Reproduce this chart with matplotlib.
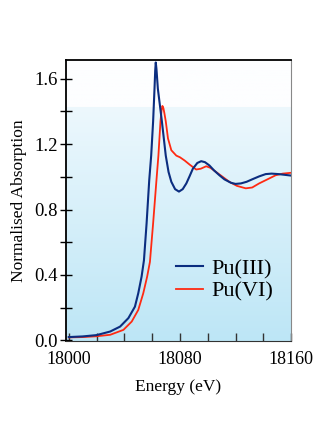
import numpy as np
import matplotlib
matplotlib.use("Agg")
import matplotlib.pyplot as plt
from matplotlib.colors import to_rgb

plt.rcParams['font.family'] = ['Liberation Serif', 'DejaVu Serif']

# Pu(III) spectrum
e_3 = [18000, 18010, 18020, 18029.8, 18036.9, 18042.9, 18047.6, 18050, 18052.4, 18054.1,
       18056, 18057.9, 18059.3, 18060.7, 18061.7, 18062.2, 18062.6, 18063.1, 18064.1, 18067,
       18069.8, 18071.8, 18073.8, 18076.5, 18079.3, 18082, 18084.6, 18087, 18089.3, 18092.5,
       18095.3, 18098, 18101.2, 18104.5, 18108.4, 18112, 18116.7, 18120, 18123.9, 18128,
       18132, 18137, 18141.7, 18146, 18151, 18156, 18160]
mu_3 = [0.020, 0.024, 0.032, 0.054, 0.084, 0.136, 0.206, 0.288, 0.39, 0.49,
        0.716, 0.98, 1.13, 1.34, 1.54, 1.65, 1.70, 1.66, 1.54, 1.34,
        1.13, 1.03, 0.97, 0.925, 0.91, 0.925, 0.96, 1.005, 1.05, 1.085,
        1.096, 1.09, 1.07, 1.04, 1.01, 0.985, 0.964, 0.957, 0.96, 0.97,
        0.985, 1.003, 1.017, 1.02, 1.017, 1.012, 1.008]

# Pu(VI) spectrum
e_6 = [18000, 18010, 18020, 18029.8, 18039.3, 18045.3, 18050, 18053.6, 18056.4, 18058.4,
       18060.7, 18063.1, 18064.5, 18066, 18066.8, 18067.4, 18068.1, 18068.8, 18069.8, 18071.4,
       18073.8, 18077.4, 18080, 18083.4, 18087, 18091.7, 18095, 18098.9, 18102, 18106,
       18110, 18115.5, 18121, 18127.4, 18132, 18137, 18143, 18148.9, 18154, 18160]
mu_6 = [0.018, 0.020, 0.025, 0.034, 0.064, 0.115, 0.186, 0.288, 0.39, 0.48,
        0.716, 0.98, 1.13, 1.34, 1.41, 1.434, 1.42, 1.39, 1.34, 1.235,
        1.163, 1.13, 1.12, 1.10, 1.075, 1.045, 1.05, 1.065, 1.055, 1.03,
        1.005, 0.97, 0.945, 0.93, 0.935, 0.96, 0.985, 1.01, 1.02, 1.025]

labels = ['Pu(III)', 'Pu(VI)']

fig = plt.figure(figsize=(3.22, 4.4), dpi=100)
ax = fig.add_axes([0.205, 0.225, 0.699, 0.639])

# background gradient (white at top -> light blue at bottom)
t = np.linspace(0, 1, 300)
c_bot = np.array(to_rgb('#bde6f6'))
c_mid = np.array(to_rgb('#edf8fd'))
c_top = np.array(to_rgb('#fdfeff'))
rows = np.where(t[:, None] > 0.83, c_top, c_bot + (c_mid - c_bot) * (t[:, None] / 0.83))
ax.imshow(rows[:, None, :], extent=[0, 1, 0, 1], transform=ax.transAxes,
          aspect='auto', origin='lower', zorder=0)

ax.plot(e_3, mu_3, color='#0b2d80', lw=1.5, label=labels[0], zorder=3)
ax.plot(e_6, mu_6, color='#ff2a12', lw=1.3, label=labels[1], zorder=2)

ax.set_xlim(17998, 18160)
ax.set_ylim(-0.004, 1.716)

ax.set_xticks([18000, 18080, 18160])
ax.set_xticks(np.arange(18000, 18161, 20), minor=True)
ax.set_yticks([0.0, 0.4, 0.8, 1.2, 1.6])
ax.set_yticks(np.arange(0, 1.61, 0.2), minor=True)
ax.set_yticklabels(['0.0', '0.4', '0.8', '1.2', '1.6'])

ax.tick_params(axis='x', which='both', direction='in', length=6, width=1, pad=7,
               labelsize=13, top=False, color='#333333')
ax.tick_params(axis='y', which='both', direction='inout', length=8, width=1, pad=2,
               labelsize=13.5, right=False)

for s in ['left', 'top']:
    ax.spines[s].set_color('black')
    ax.spines[s].set_linewidth(1.3)
ax.spines['bottom'].set_color('#333333')
ax.spines['right'].set_color('#888888')

ax.set_xlabel('Energy (eV)', fontsize=12.5, labelpad=8)
ax.set_ylabel('Normalised Absorption', fontsize=12.5, labelpad=5)

ax.legend(loc='upper left', bbox_to_anchor=(0.45, 0.325), frameon=False, fontsize=16,
          handlelength=1.2, handletextpad=0.4, labelspacing=0.1, borderaxespad=0)

fig.savefig('out.png', dpi=100)
